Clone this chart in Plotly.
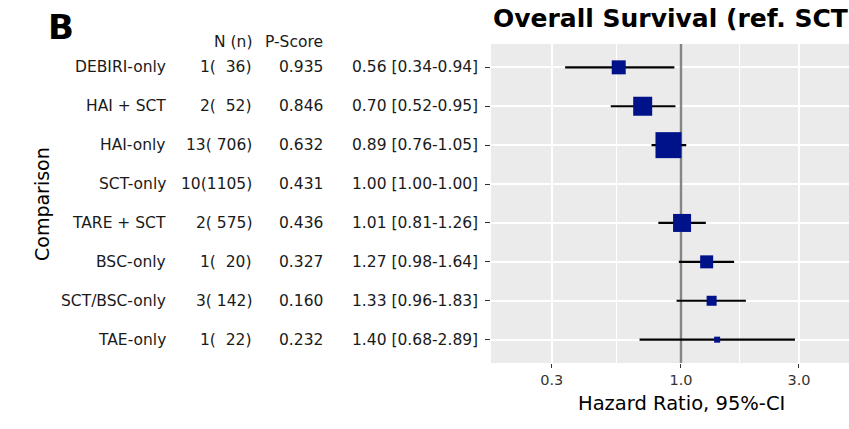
import plotly.graph_objects as go

# ---- data ----
comparisons = ["DEBIRI-only", "HAI + SCT", "HAI-only", "SCT-only",
               "TARE + SCT", "BSC-only", "SCT/BSC-only", "TAE-only"]
n_studies = [1, 2, 13, 10, 2, 1, 3, 1]
n_patients = [36, 52, 706, 1105, 575, 20, 142, 22]
p_score = [0.935, 0.846, 0.632, 0.431, 0.436, 0.327, 0.160, 0.232]
hr = [0.56, 0.70, 0.89, 1.00, 1.01, 1.27, 1.33, 1.40]
ci_lo = [0.34, 0.52, 0.76, 1.00, 0.81, 0.98, 0.96, 0.68]
ci_hi = [0.94, 0.95, 1.05, 1.00, 1.26, 1.64, 1.83, 2.89]
x_ticks = [0.3, 1.0, 3.0]
x_minor = [0.5477, 1.7321]
ref_hr = 1.0

# ---- style ----
marker_px = [14, 19, 26, 0, 18, 13, 10, 6]
FONT = "DejaVu Sans"
NBSP = "\u00a0"

rows = list(range(1, len(comparisons) + 1))
y_range = [len(rows) + 0.6, 0.4]

fig = go.Figure()
# reference line (drawn as a trace so it sits above the grid, below markers)
fig.add_trace(go.Scatter(
    x=[ref_hr, ref_hr], y=[min(y_range) - 1, max(y_range) + 1], mode="lines",
    line=dict(color="#858585", width=2.4), cliponaxis=True,
    showlegend=False, hoverinfo="skip"))
fig.add_trace(go.Scatter(
    x=hr, y=rows, mode="markers",
    marker=dict(symbol="square", size=marker_px, color="#00128A", opacity=1,
                line=dict(width=0)),
    error_x=dict(type="data", symmetric=False,
                 array=[h - v for h, v in zip(ci_hi, hr)],
                 arrayminus=[h - v for h, v in zip(hr, ci_lo)],
                 color="black", thickness=2.2, width=0),
    showlegend=False, hoverinfo="skip"))

W, H = 849, 429
L, R, T = 491, 0, 44
B = H - 363
pw = W - L - R
ph = H - T - B

def px_x(px):
    return (px - L) / pw

def px_y(py):
    return (H - B - py) / ph

ann = []
txt_font = dict(family=FONT, size=15.5, color="#1a1a1a")
for i, r in enumerate(rows):
    ann.append(dict(x=px_x(168), y=r, xref="paper", yref="y", text=comparisons[i],
                    xanchor="right", yanchor="middle", showarrow=False, font=txt_font))
    nn = ("%d(%4d)" % (n_studies[i], n_patients[i])).replace(" ", NBSP)
    ann.append(dict(x=px_x(254), y=r, xref="paper", yref="y", text=nn,
                    xanchor="right", yanchor="middle", showarrow=False, font=txt_font))
    ann.append(dict(x=px_x(325), y=r, xref="paper", yref="y", text="%.3f" % p_score[i],
                    xanchor="right", yanchor="middle", showarrow=False, font=txt_font))
    hrt = "%.2f [%.2f-%.2f]" % (hr[i], ci_lo[i], ci_hi[i])
    ann.append(dict(x=px_x(480), y=r, xref="paper", yref="y", text=hrt,
                    xanchor="right", yanchor="middle", showarrow=False, font=txt_font))

ann.append(dict(x=px_x(254), y=px_y(42), xref="paper", yref="paper", text="N (n)",
                xanchor="right", yanchor="middle", showarrow=False, font=txt_font))
ann.append(dict(x=px_x(325), y=px_y(42), xref="paper", yref="paper", text="P-Score",
                xanchor="right", yanchor="middle", showarrow=False, font=txt_font))
ann.append(dict(x=px_x(491), y=px_y(19), xref="paper", yref="paper",
                text="<b>Overall Survival (ref. SCT)</b>",
                xanchor="left", yanchor="middle", showarrow=False,
                font=dict(family=FONT, size=25, color="black")))
ann.append(dict(x=px_x(46), y=px_y(27), xref="paper", yref="paper", text="<b>B</b>",
                xanchor="left", yanchor="middle", showarrow=False,
                font=dict(family=FONT, size=34, color="black")))
ann.append(dict(x=px_x(42), y=px_y(204), xref="paper", yref="paper", text="Comparison",
                textangle=-90, xanchor="center", yanchor="middle", showarrow=False,
                font=dict(family=FONT, size=19, color="black")))
ann.append(dict(x=px_x(681.5), y=px_y(403), xref="paper", yref="paper",
                text="Hazard Ratio, 95%-CI", xanchor="center", yanchor="middle",
                showarrow=False, font=dict(family=FONT, size=19.5, color="black")))

fig.update_layout(
    width=W, height=H,
    margin=dict(l=L, r=R, t=T, b=B, pad=0),
    paper_bgcolor="white", plot_bgcolor="#EBEBEB",
    annotations=ann,
    xaxis=dict(type="log", range=[-0.7683, 0.6794], tickvals=x_ticks,
               ticktext=["%.1f" % v for v in x_ticks],
               showgrid=True, gridcolor="white", gridwidth=1.6,
               zeroline=False, showline=False,
               ticks="outside", ticklen=4, tickwidth=1.4, tickcolor="#333333",
               tickfont=dict(family=FONT, size=14.5, color="#333333"),
               minor=dict(tickvals=x_minor, showgrid=True, gridcolor="white",
                          gridwidth=0.8, ticks="")),
    yaxis=dict(range=y_range, tickvals=rows, showticklabels=False,
               showgrid=True, gridcolor="white", gridwidth=1.6,
               zeroline=False, showline=False,
               ticks="outside", ticklen=5, tickwidth=1.4, tickcolor="#333333"),
)

fig.write_html(
    "out.html",
    config={"displayModeBar": False},
    post_script="document.body.style.margin='0px';"
                "document.documentElement.style.overflow='hidden';",
)
